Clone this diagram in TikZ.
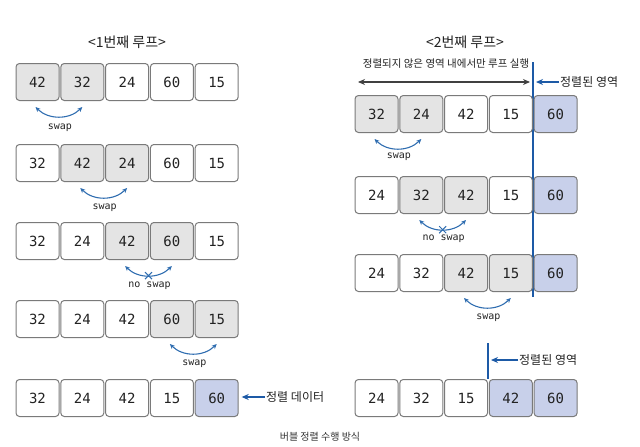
\documentclass[tikz,border=0pt]{standalone}
\usepackage{fontspec}
\setmainfont{Noto Sans CJK KR}
\setmonofont{DejaVu Sans Mono}
\usetikzlibrary{arrows.meta,shapes.misc}
\definecolor{boxline}{HTML}{7A7A7A}
\definecolor{grayfill}{HTML}{E4E4E4}
\definecolor{bluefill}{HTML}{C8D0EA}
\definecolor{arcblue}{HTML}{2F6DB0}
\definecolor{lineblue}{HTML}{1D5AA6}
\definecolor{txt}{HTML}{222222}
\tikzset{
  cell/.style={draw=boxline, line width=1pt, rounded corners=3.5pt, minimum width=43pt, minimum height=37pt, inner sep=0pt, font=\fontsize{14}{14}\selectfont\ttfamily, text=txt},
  gcell/.style={cell, fill=grayfill},
  bcell/.style={cell, fill=bluefill},
  swaparc/.style={draw=arcblue, line width=1.1pt, {Stealth[length=5pt,width=4.5pt]}-{Stealth[length=5pt,width=4.5pt]}},
  swaplbl/.style={font=\fontsize{10}{10}\selectfont\ttfamily, text=txt, inner sep=1pt},
  xmark/.style={cross out, draw=arcblue, line width=1pt, minimum size=6pt, inner sep=0pt},
  title/.style={font=\fontsize{14}{14}\selectfont, text=txt},
  lbl/.style={font=\fontsize{12}{12}\selectfont, text=txt, inner sep=1pt},
  bluearrow/.style={draw=lineblue, line width=1.3pt, -{Stealth[length=7pt,width=6pt]}},
  vline/.style={draw=lineblue, line width=1.8pt},
  darrow/.style={draw=black!75, line width=1.2pt, {Stealth[length=7pt,width=6pt]}-{Stealth[length=7pt,width=6pt]}}
}
\begin{document}
\begin{tikzpicture}[x=1pt,y=-1pt]
\useasboundingbox (0,0) rectangle (640,447);
% titles
\node[title] (t1) at (127,42) {<1번째 루프>};
\node[title] (t2) at (465,42) {<2번째 루프>};
% left column
\def\lx#1{\fpeval{37.5+44.8*(#1-1)}}
% row 1
\node[gcell] (L11) at (37.5,82) {42};
\node[gcell] (L12) at (82.3,82) {32};
\node[cell]  (L13) at (127.1,82) {24};
\node[cell]  (L14) at (171.9,82) {60};
\node[cell]  (L15) at (216.7,82) {15};
\draw[swaparc] ([xshift=-2pt,yshift=-6pt]L11.south) to[bend right=45] ([yshift=-6pt]L12.south);
\node[swaplbl] (s1) at (59.9,128) {swap};
% row 2
\node[cell]  (L21) at (37.5,163) {32};
\node[gcell] (L22) at (82.3,163) {42};
\node[gcell] (L23) at (127.1,163) {24};
\node[cell]  (L24) at (171.9,163) {60};
\node[cell]  (L25) at (216.7,163) {15};
\draw[swaparc] ([xshift=-2pt,yshift=-6pt]L22.south) to[bend right=45] ([yshift=-6pt]L23.south);
\node[swaplbl] (s2) at (104.7,208) {swap};
% row 3
\node[cell]  (L31) at (37.5,241) {32};
\node[cell]  (L32) at (82.3,241) {24};
\node[gcell] (L33) at (127.1,241) {42};
\node[gcell] (L34) at (171.9,241) {60};
\node[cell]  (L35) at (216.7,241) {15};
\draw[swaparc] ([xshift=-2pt,yshift=-6pt]L33.south) to[bend right=45] node[xmark,pos=0.5] (x1) {} ([yshift=-6pt]L34.south);
\node[swaplbl] (s3) at (149.5,286) {no swap};
% row 4
\node[cell]  (L41) at (37.5,319) {32};
\node[cell]  (L42) at (82.3,319) {24};
\node[cell]  (L43) at (127.1,319) {42};
\node[gcell] (L44) at (171.9,319) {60};
\node[gcell] (L45) at (216.7,319) {15};
\draw[swaparc] ([xshift=-2pt,yshift=-6pt]L44.south) to[bend right=45] ([yshift=-6pt]L45.south);
\node[swaplbl] (s4) at (194.3,364) {swap};
% row 5
\node[cell]  (L51) at (37.5,398) {32};
\node[cell]  (L52) at (82.3,398) {24};
\node[cell]  (L53) at (127.1,398) {42};
\node[cell]  (L54) at (171.9,398) {15};
\node[bcell] (L55) at (216.7,398) {60};
\node[lbl,anchor=west] (d1) at (265,397) {정렬 데이터};
\draw[bluearrow] (d1.west) -- ([xshift=3pt]L55.east |- d1.west);
% right column
\node[lbl,font=\fontsize{10.5}{10.5}\selectfont] (u1) at (446,64) {정렬되지 않은 영역 내에서만 루프 실행};
\coordinate (ua) at (358,82);
\coordinate (ub) at (530,82);
\draw[darrow] (ua) -- (ub);
\coordinate (vtop) at (533,62);
\coordinate (vbot) at (533,297);
\draw[vline] (vtop) -- (vbot);
\node[lbl,anchor=west] (r1) at (559,82) {정렬된 영역};
\coordinate (r1tip) at (536,82);
\draw[bluearrow] (r1.west) -- (r1tip);
% right row 1
\node[gcell] (R11) at (376.5,114) {32};
\node[gcell] (R12) at (421.3,114) {24};
\node[cell]  (R13) at (466,114) {42};
\node[cell]  (R14) at (510.8,114) {15};
\node[bcell] (R15) at (555.6,114) {60};
\draw[swaparc] ([xshift=-2pt,yshift=-6pt]R11.south) to[bend right=45] ([yshift=-6pt]R12.south);
\node[swaplbl] (rs1) at (398.9,157) {swap};
% right row 2
\node[cell]  (R21) at (376.5,195) {24};
\node[gcell] (R22) at (421.3,195) {32};
\node[gcell] (R23) at (466,195) {42};
\node[cell]  (R24) at (510.8,195) {15};
\node[bcell] (R25) at (555.6,195) {60};
\draw[swaparc] ([xshift=-2pt,yshift=-6pt]R22.south) to[bend right=45] node[xmark,pos=0.5] (x2) {} ([yshift=-6pt]R23.south);
\node[swaplbl] (rs2) at (443.6,239) {no swap};
% right row 3
\node[cell]  (R31) at (376.5,273) {24};
\node[cell]  (R32) at (421.3,273) {32};
\node[gcell] (R33) at (466,273) {42};
\node[gcell] (R34) at (510.8,273) {15};
\node[bcell] (R35) at (555.6,273) {60};
\draw[swaparc] ([xshift=-2pt,yshift=-6pt]R33.south) to[bend right=45] ([yshift=-6pt]R34.south);
\node[swaplbl] (rs3) at (488.4,318) {swap};
% right row 4
\node[cell]  (R41) at (376.5,398) {24};
\node[cell]  (R42) at (421.3,398) {32};
\node[cell]  (R43) at (466,398) {15};
\node[bcell] (R44) at (510.8,398) {42};
\node[bcell] (R45) at (555.6,398) {60};
\coordinate (wtop) at (488.3,343);
\draw[vline] (wtop) -- (wtop |- R44.north);
\node[lbl,anchor=west] (r2) at (518,360) {정렬된 영역};
\coordinate (r2tip) at (491,360);
\draw[bluearrow] (r2.west) -- (r2tip);
% caption
\node[font=\fontsize{10}{10}\selectfont, text=black!80] (cap) at (320,437) {버블 정렬 수행 방식};
\end{tikzpicture}
\end{document}
